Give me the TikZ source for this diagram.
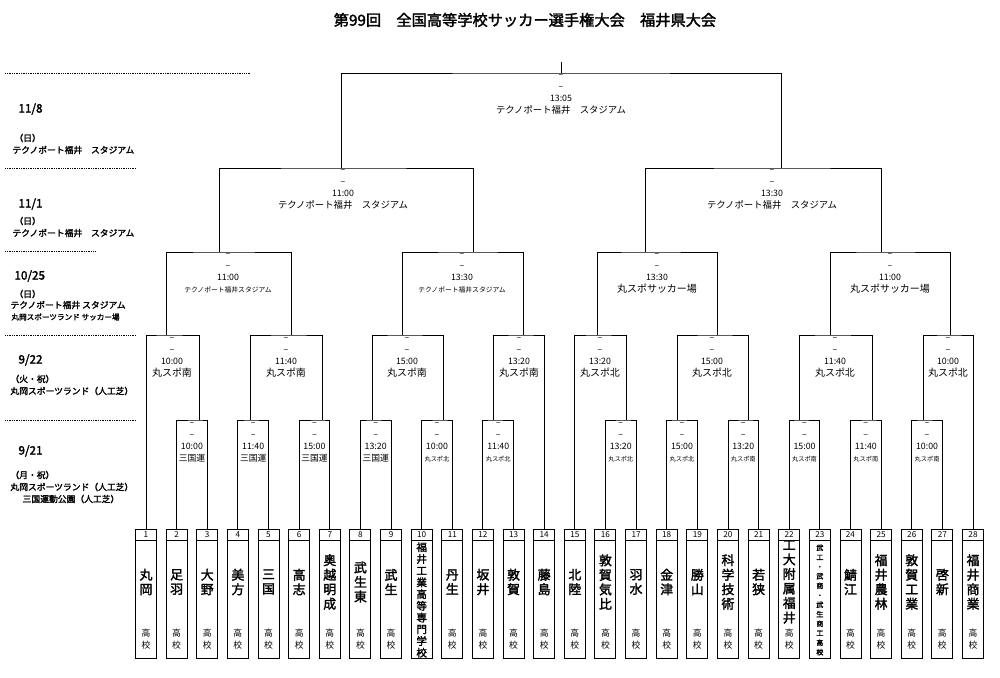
\documentclass[tikz,border=0pt]{standalone}
\usepackage{fontspec}
\setmainfont{Noto Sans CJK JP}[AutoFakeBold=2]
\usetikzlibrary{calc}

\begin{document}
\begin{tikzpicture}[
            x = 0.3mm, y = -0.3mm, % pixel grid of the sheet
            line width = 0.8pt,
            teambox/.style = {draw, rectangle, minimum width=6.3mm, minimum height=38.7mm, inner sep=0pt},
            info/.style = {anchor=north, align=center, inner sep=0pt, font=\fontsize{7.5}{10.2}\selectfont},
            day/.style = {anchor=west, inner sep=0pt, font=\fontsize{10}{12}\selectfont\bfseries},
            place/.style = {anchor=west, inner sep=0pt, font=\fontsize{7.5}{9}\selectfont\bfseries},
            rule/.style = {densely dotted, line width=0.5pt}
        ]
\useasboundingbox (0,0) rectangle (1000,678);

% title
\node[font=\fontsize{13}{15}\selectfont\bfseries] (title) at (525,20) {第99回　全国高等学校サッカー選手権大会　福井県大会};

% left column
\draw[rule] (5,73) -- (250,73);
\draw[rule] (5,168) -- (136,168);
\draw[rule] (5,251) -- (95,251);
\draw[rule] (5,335) -- (136,335);
\draw[rule] (5,420) -- (136,420);
\node[day] (d1) at (18,109) {11/8};
\node[place] (d1a) at (14,138) {（日）};
\node[place] (d1b) at (12,150) {テクノポート福井　スタジアム};
\node[day] (d2) at (18,204) {11/1};
\node[place] (d2a) at (14,221) {（日）};
\node[place] (d2b) at (12,233) {テクノポート福井　スタジアム};
\node[day] (d3) at (14,276) {10/25};
\node[place] (d3a) at (14,294) {（日）};
\node[place] (d3b) at (10,305) {テクノポート福井 スタジアム};
\node[place, font=\fontsize{6.5}{8}\selectfont\bfseries] (d3c) at (11,317) {丸岡スポーツランド サッカー場};
\node[day] (d4) at (18,360) {9/22};
\node[place] (d4a) at (10,379) {（火・祝）};
\node[place] (d4b) at (10,391) {丸岡スポーツランド（人工芝）};
\node[day] (d5) at (18,451) {9/21};
\node[place] (d5a) at (10,475) {（月・祝）};
\node[place] (d5b) at (10,487) {丸岡スポーツランド（人工芝）};
\node[place, anchor=center] (d5c) at (71,499) {三国運動公園（人工芝）};

% teams
\foreach \i in {1,...,28} {
  \node[teambox] (t\i) at ({146+(\i-1)*30.63},593.5) {};
  \draw ($(t\i.north west)+(0,12)$) -- ($(t\i.north east)+(0,12)$);
  \node[font=\fontsize{7}{8}\selectfont] (k\i) at ({146+(\i-1)*30.63},535) {\i};
}
\foreach \i/\nm in {1/丸\\岡, 2/足\\羽, 3/大\\野, 4/美\\方, 5/三\\国, 6/高\\志, 7/奥\\越\\明\\成,
    8/武\\生\\東, 9/武\\生, 11/丹\\生, 12/坂\\井, 13/敦\\賀, 14/藤\\島, 15/北\\陸,
    16/敦\\賀\\気\\比, 17/羽\\水, 18/金\\津, 19/勝\\山, 20/科\\学\\技\\術, 21/若\\狭,
    22/工\\大\\附\\属\\福\\井, 24/鯖\\江, 25/福\\井\\農\\林, 26/敦\\賀\\工\\業, 27/啓\\新, 28/福\\井\\商\\業} {
  \node[align=center, inner sep=0pt, font=\fontsize{11}{12.4}\selectfont\bfseries] (n\i) at ({146+(\i-1)*30.63},582) {\nm};
  \node[align=center, inner sep=0pt, font=\fontsize{7.5}{10.2}\selectfont] (s\i) at ({146+(\i-1)*30.63},639) {高\\校};
}
\node[align=center, inner sep=0pt, font=\fontsize{9}{10}\selectfont\bfseries] (n10) at (t10 |- 0,600) {福\\井\\工\\業\\高\\等\\専\\門\\学\\校};
\node[align=center, inner sep=0pt, font=\fontsize{6}{8.1}\selectfont\bfseries] (n23) at (t23 |- 0,600) {武\\工\\・\\武\\商\\・\\武\\生\\商\\工\\高\\校};

% 9/21
\coordinate (a1) at (199,420); \coordinate (a2) at (250,420);
\coordinate (a3) at (322,420); \coordinate (a4) at (372,420);
\coordinate (a5) at (443,420); \coordinate (a6) at (493,420);
\coordinate (a7) at (626,420); \coordinate (a8) at (677,420);
\coordinate (a9) at (748,420); \coordinate (a10) at (799,420);
\coordinate (a11) at (872,420); \coordinate (a12) at (923,420);
\foreach \m/\p/\q in {1/2/3, 2/4/5, 3/6/7, 4/8/9, 5/10/11, 6/12/13,
    7/16/17, 8/18/19, 9/20/21, 10/22/23, 11/24/25, 12/26/27}
  \draw (t\p.north) |- (a\m) -| (t\q.north);
\foreach \m/\p/\tm/\vn in {1/2/10:00/{\fontsize{7.5}{9}\selectfont 三国運}, 2/4/11:40/{\fontsize{7.5}{9}\selectfont 三国運},
    3/6/15:00/{\fontsize{7.5}{9}\selectfont 三国運}, 4/8/13:20/{\fontsize{7.5}{9}\selectfont 三国運},
    5/10/10:00/{\fontsize{5.3}{7}\selectfont 丸スポ北}, 6/12/11:40/{\fontsize{5.3}{7}\selectfont 丸スポ北},
    7/16/13:20/{\fontsize{5.3}{7}\selectfont 丸スポ北}, 8/18/15:00/{\fontsize{5.3}{7}\selectfont 丸スポ北},
    9/20/13:20/{\fontsize{5.3}{7}\selectfont 丸スポ南}, 10/22/15:00/{\fontsize{5.3}{7}\selectfont 丸スポ南},
    11/24/11:40/{\fontsize{5.3}{7}\selectfont 丸スポ南}, 12/26/10:00/{\fontsize{5.3}{7}\selectfont 丸スポ南}}
  \node[info] (la\m) at ({146+(\p-1)*30.63+15.3},422) {–\\–\\\tm\\\vn};

% 9/22
\coordinate (b1) at (166,335); \coordinate (b2) at (291,335);
\coordinate (b3) at (402,335); \coordinate (b4) at (523,335);
\coordinate (b5) at (597,335); \coordinate (b6) at (717,335);
\coordinate (b7) at (830,335); \coordinate (b8) at (950,335);
\draw (t1.north) |- (b1) -| (a1);
\draw (a2) |- (b2) -| (a3);
\draw (a4) |- (b3) -| (a5);
\draw (a6) |- (b4) -| (t14.north);
\draw (t15.north) |- (b5) -| (a7);
\draw (a8) |- (b6) -| (a9);
\draw (a10) |- (b7) -| (a11);
\draw (a12) |- (b8) -| (t28.north);
\foreach \m/\x/\tm/\vn in {1/172/10:00/丸スポ南, 2/286/11:40/丸スポ南, 3/407/15:00/丸スポ南, 4/519/13:20/丸スポ南,
    5/600/13:20/丸スポ北, 6/712/15:00/丸スポ北, 7/835/11:40/丸スポ北, 8/948/10:00/丸スポ北}
  \node[info] (lb\m) at (\x,337) {–\\–\\\tm\\{\fontsize{8.5}{10}\selectfont \vn}};

% 10/25
\coordinate (c1) at (219,252); \coordinate (c2) at (473,252);
\coordinate (c3) at (645,252); \coordinate (c4) at (881,252);
\draw (b1) |- (c1) -| (b2);
\draw (b3) |- (c2) -| (b4);
\draw (b5) |- (c3) -| (b6);
\draw (b7) |- (c4) -| (b8);
\node[info] (lc1) at (228,253) {–\\–\\11:00\\{\fontsize{5.8}{7}\selectfont テクノポート福井スタジアム}};
\node[info] (lc2) at (462,253) {–\\–\\13:30\\{\fontsize{5.8}{7}\selectfont テクノポート福井スタジアム}};
\node[info] (lc3) at (657,253) {–\\–\\13:30\\{\fontsize{8.5}{10}\selectfont 丸スポサッカー場}};
\node[info] (lc4) at (890,253) {–\\–\\11:00\\{\fontsize{8.5}{10}\selectfont 丸スポサッカー場}};

% 11/1
\coordinate (e1) at (341,168); \coordinate (e2) at (781,168);
\draw (c1) |- (e1) -| (c2);
\draw (c3) |- (e2) -| (c4);
\node[info] (le1) at (343,169) {–\\–\\11:00\\{\fontsize{8}{10}\selectfont テクノポート福井　スタジアム}};
\node[info] (le2) at (772,169) {–\\–\\13:30\\{\fontsize{8}{10}\selectfont テクノポート福井　スタジアム}};

% 11/8
\coordinate (f1) at (561,73); \coordinate (top) at (561,62);
\draw (e1) |- (f1) -| (e2);
\draw (f1) -- (top);
\node[info] (lf1) at (561,74) {–\\–\\13:05\\{\fontsize{8}{10}\selectfont テクノポート福井　スタジアム}};
\end{tikzpicture}
\end{document}
